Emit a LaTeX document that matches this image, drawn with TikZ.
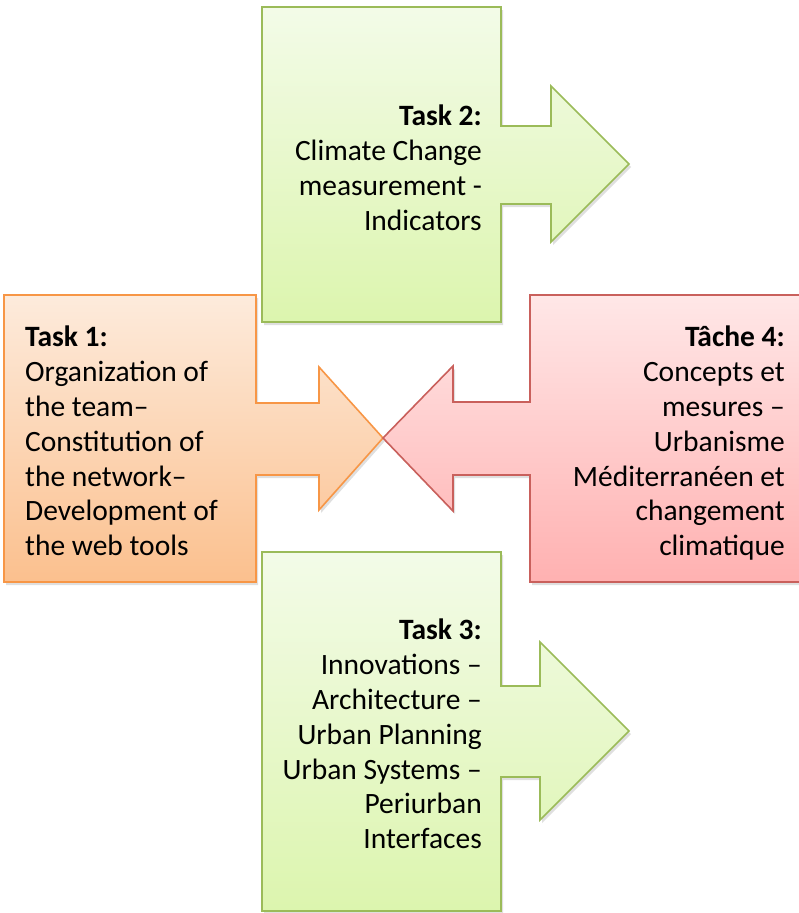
\documentclass[tikz,border=0pt]{standalone}
\usepackage{fontspec}
\setmainfont{Carlito}
\usetikzlibrary{shadows}
\definecolor{gTop}{HTML}{F3FBE8}
\definecolor{gBot}{HTML}{DCF5AE}
\definecolor{gLine}{HTML}{9BBB59}
\definecolor{oTop}{HTML}{FDEBDC}
\definecolor{oBot}{HTML}{FBC08E}
\definecolor{oLine}{HTML}{F79646}
\definecolor{rTop}{HTML}{FFE7E7}
\definecolor{rBot}{HTML}{FFB1B1}
\definecolor{rLine}{HTML}{C9605C}
\tikzset{
  blk/.style={line width=1.6pt, line join=miter,
    drop shadow={opacity=0.25, shadow xshift=2pt, shadow yshift=-3pt}},
  greenblk/.style={blk, draw=gLine, top color=gTop, bottom color=gBot},
  orangeblk/.style={blk, draw=oLine, top color=oTop, bottom color=oBot},
  redblk/.style={blk, draw=rLine, top color=rTop, bottom color=rBot},
  lbl/.style={inner sep=0pt, text=black, font=\fontsize{29.5}{34.8}\selectfont}
}
\begin{document}
\begin{tikzpicture}[x=1pt, y=-1pt]
\useasboundingbox (0,0) rectangle (798,913);
% Task 2
\path[greenblk] (262,7) -- (501,7) -- (501,126) -- (551,126) -- (551,86) -- (629,164)
  -- (551,242) -- (551,204) -- (501,204) -- (501,322) -- (262,322) -- cycle;
% Task 3
\path[greenblk] (262,552) -- (501,552) -- (501,686) -- (540,686) -- (540,642) -- (629,731)
  -- (540,820) -- (540,777) -- (501,777) -- (501,911) -- (262,911) -- cycle;
% Task 1
\path[orangeblk] (4,295) -- (256,295) -- (256,403) -- (319,403) -- (319,367) -- (383,438)
  -- (319,510) -- (319,475) -- (256,475) -- (256,582) -- (4,582) -- cycle;
% Task 4
\path[redblk] (530,295) -- (803,295) -- (803,582) -- (530,582) -- (530,475) -- (453,475)
  -- (453,511) -- (383,438) -- (453,366) -- (453,402) -- (530,402) -- cycle;

\node[lbl, anchor=north west, align=left] (t1) at (25,326)
  {\textbf{Task 1:}\\Organization of\\the team–\\Constitution of\\the network–\\Development of\\the web tools};
\node[lbl, anchor=north east, align=right] (t2) at (482,105)
  {\textbf{Task 2:}\\Climate Change\\measurement -\\Indicators};
\node[lbl, anchor=north east, align=right] (t3) at (482,619)
  {\textbf{Task 3:}\\Innovations –\\Architecture –\\Urban Planning\\Urban Systems –\\Periurban\\Interfaces};
\node[lbl, anchor=north east, align=right] (t4) at (785,326)
  {\textbf{Tâche 4:}\\Concepts et\\mesures –\\Urbanisme\\Méditerranéen et\\changement\\climatique};
\end{tikzpicture}
\end{document}
